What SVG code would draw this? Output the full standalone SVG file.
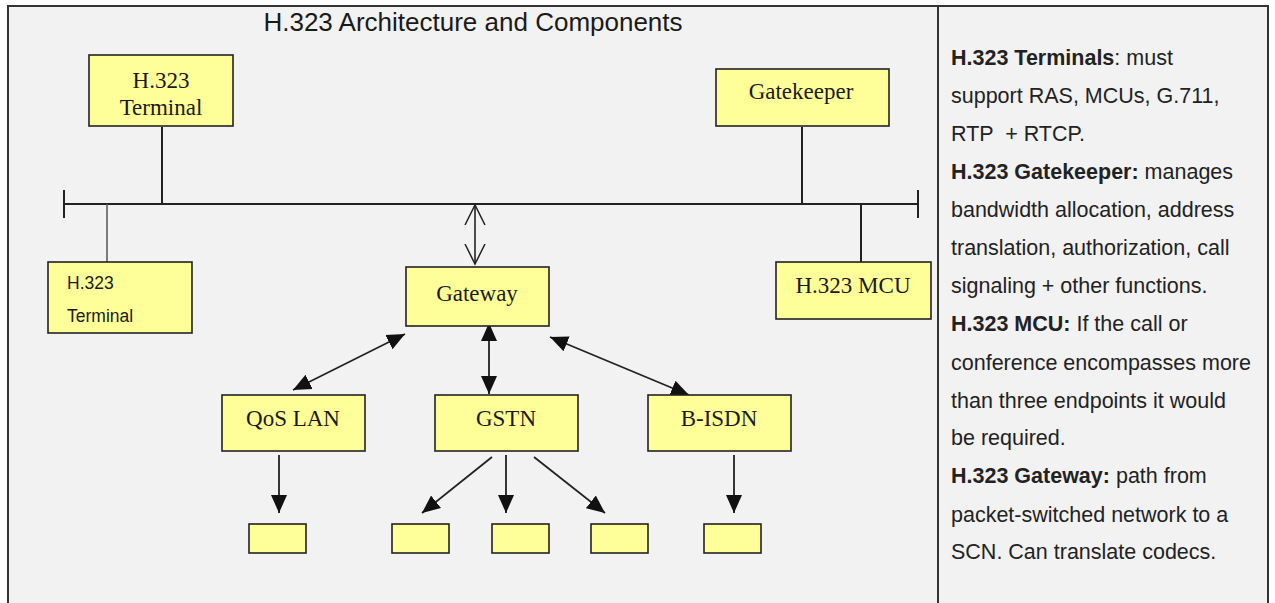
<svg xmlns="http://www.w3.org/2000/svg" width="1275" height="603" viewBox="0 0 1275 603">
<style>
.box{fill:#ffff99;stroke:#222;stroke-width:1.6}
.serif{font-family:"Liberation Serif","Times New Roman",serif;font-size:23px;fill:#1a1a1a;text-anchor:middle}
.sans{font-family:"Liberation Sans",Arial,sans-serif;fill:#1a1a1a}
.ln{stroke:#222;stroke-width:2;fill:none}
.ar{stroke:#222;stroke-width:1.8;fill:none;marker-start:url(#ah);marker-end:url(#ah)}
.down{stroke:#222;stroke-width:1.8;fill:none;marker-end:url(#ah)}
.note{font-family:"Liberation Sans",Arial,sans-serif;font-size:21.5px;fill:#222}
.b{font-weight:bold}
</style>
<defs>
<marker id="ah" markerWidth="19" markerHeight="18" refX="18" refY="9" orient="auto-start-reverse" markerUnits="userSpaceOnUse">
<path d="M0,1 L18,9 L0,17 z" fill="#111"/>
</marker>
<marker id="ov" markerWidth="22" markerHeight="24" refX="20" refY="11" orient="auto-start-reverse" markerUnits="userSpaceOnUse">
<path d="M0,1 L20,11 L0,21" fill="none" stroke="#222" stroke-width="1.5"/>
</marker>
</defs>
<rect x="0" y="0" width="1275" height="603" fill="#ffffff"/>
<rect x="8" y="6" width="1260" height="610" fill="#f2f2f2" stroke="#333" stroke-width="2"/>
<line x1="938" y1="6" x2="938" y2="603" stroke="#333" stroke-width="2"/>
<text x="473" y="31" class="sans" font-size="26" text-anchor="middle" fill="#333">H.323 Architecture and Components</text>

<g id="connectors">
<line class="ln" x1="64" y1="204" x2="918" y2="204"/>
<line class="ln" x1="64" y1="190" x2="64" y2="218"/>
<line class="ln" x1="918" y1="190" x2="918" y2="218"/>
<line class="ln" x1="162" y1="127" x2="162" y2="204"/>
<line class="ln" x1="802" y1="127" x2="802" y2="204"/>
<line x1="107" y1="204" x2="107" y2="262" stroke="#555" stroke-width="1.5"/>
<line class="ln" x1="861" y1="204" x2="861" y2="262"/>
<line x1="475" y1="205" x2="475" y2="264" stroke="#222" stroke-width="1.6" marker-start="url(#ov)" marker-end="url(#ov)"/>
<line class="ar" x1="405" y1="334" x2="293" y2="390"/>
<line class="ar" x1="489" y1="323" x2="489" y2="394"/>
<line class="ar" x1="550" y1="337" x2="689" y2="395"/>
<line class="down" x1="279" y1="455" x2="279" y2="513"/>
<line class="down" x1="492" y1="457" x2="422" y2="513"/>
<line class="down" x1="506" y1="455" x2="506" y2="513"/>
<line class="down" x1="534" y1="457" x2="605" y2="513"/>
<line class="down" x1="734" y1="455" x2="734" y2="513"/>
</g>

<g id="terminal-top">
<rect class="box" x="89" y="55" width="144" height="71"/>
<text class="serif" x="161" y="88">H.323</text>
<text class="serif" x="161" y="115">Terminal</text>
</g>
<g id="gatekeeper">
<rect class="box" x="716" y="69" width="173" height="57"/>
<text class="serif" x="801" y="99">Gatekeeper</text>
</g>
<g id="terminal-low">
<rect class="box" x="48" y="262" width="144" height="71"/>
<text class="sans" x="67" y="289" font-size="17.5">H.323</text>
<text class="sans" x="67" y="322" font-size="17.5">Terminal</text>
</g>
<g id="gateway">
<rect class="box" x="406" y="267" width="143" height="59"/>
<text class="serif" x="477" y="301">Gateway</text>
</g>
<g id="mcu">
<rect class="box" x="776" y="262" width="155" height="57"/>
<text class="serif" x="853" y="293">H.323 MCU</text>
</g>
<g id="qoslan">
<rect class="box" x="222" y="395" width="143" height="56"/>
<text class="serif" x="293" y="426">QoS LAN</text>
</g>
<g id="gstn">
<rect class="box" x="435" y="395" width="143" height="56"/>
<text class="serif" x="506" y="426">GSTN</text>
</g>
<g id="bisdn">
<rect class="box" x="648" y="395" width="143" height="56"/>
<text class="serif" x="719" y="426">B-ISDN</text>
</g>
<g id="leaf1"><rect class="box" x="249" y="524" width="57" height="29"/></g>
<g id="leaf2"><rect class="box" x="392" y="524" width="57" height="29"/></g>
<g id="leaf3"><rect class="box" x="492" y="524" width="57" height="29"/></g>
<g id="leaf4"><rect class="box" x="591" y="524" width="57" height="29"/></g>
<g id="leaf5"><rect class="box" x="704" y="524" width="57" height="29"/></g>

<g id="notes" class="note">
<text x="951" y="65"><tspan class="b">H.323 Terminals</tspan>: must</text>
<text x="951" y="103">support RAS, MCUs, G.711,</text>
<text x="951" y="141" xml:space="preserve">RTP  + RTCP.</text>
<text x="951" y="179"><tspan class="b">H.323 Gatekeeper:</tspan> manages</text>
<text x="951" y="217">bandwidth allocation, address</text>
<text x="951" y="255">translation, authorization, call</text>
<text x="951" y="293">signaling + other functions.</text>
<text x="951" y="331"><tspan class="b">H.323 MCU:</tspan> If the call or</text>
<text x="951" y="370">conference encompasses more</text>
<text x="951" y="408">than three endpoints it would</text>
<text x="951" y="445">be required.</text>
<text x="951" y="483"><tspan class="b">H.323 Gateway:</tspan> path from</text>
<text x="951" y="522">packet-switched network to a</text>
<text x="951" y="559">SCN. Can translate codecs.</text>
</g>
</svg>
